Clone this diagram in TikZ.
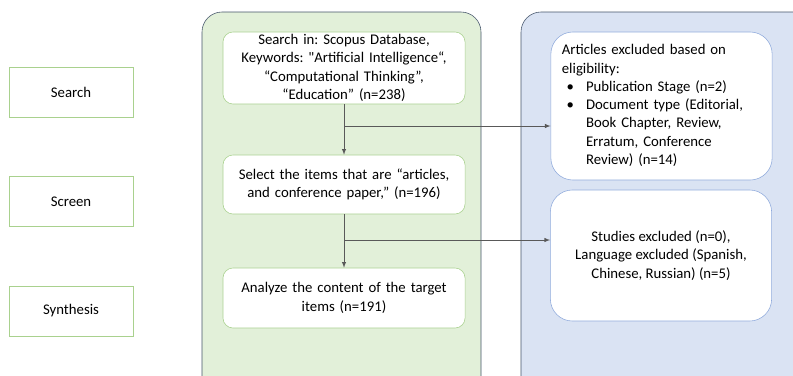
\documentclass[tikz,border=0pt]{standalone}
\usepackage{fontspec}
\setmainfont{Carlito}[Ligatures=TeXOff]
\definecolor{vertbord}{HTML}{A9D18E}
\definecolor{vertfond}{HTML}{E2F0D9}
\definecolor{bleubord}{HTML}{8FAADC}
\definecolor{bleufond}{HTML}{DAE3F3}
\definecolor{cadre}{HTML}{44546A}
\definecolor{trait}{HTML}{595959}
\begin{document}
\begin{tikzpicture}[x=0.025cm, y=-0.025cm]
	\tikzset{etape/.style={rectangle, draw=vertbord, fill=white, inner sep=0, minimum width=3.1cm, minimum height=1.25cm},
		boite/.style={rectangle, rounded corners=0.25cm, draw=vertbord, fill=white, inner sep=0, minimum width=6.05cm, align=center, text width=5.9cm},
		exclu/.style={rectangle, rounded corners=0.55cm, draw=bleubord, fill=white, inner sep=0, minimum width=5.53cm},
		fleche/.style={>=latex, ->, draw=trait, thin}};
	\useasboundingbox (0,0) rectangle (793,375);
	\clip (0,0) rectangle (793,375);
	\fontsize{10.5}{13}\selectfont\frenchspacing

	% panneaux
	\draw[cadre, fill=vertfond, rounded corners=0.5cm] (202,12) rectangle (481,420);
	\draw[cadre, fill=bleufond, rounded corners=0.5cm] (521,12) rectangle (840,420);

	\node[etape] (search) at (71,92) {Search};
	\node[etape] (screen) at (71,201.5) {Screen};
	\node[etape] (synth) at (71,311) {Synthesis};

	\node[boite, minimum height=1.8cm] (s1) at (344,68) {Search in: Scopus Database,\\ Keywords: "Artificial Intelligence“,\\ “Computational Thinking”,\\ “Education” (n=238)};
	\node[boite, minimum height=1.475cm] (s2) at (344,184.5) {Select the items that are “articles,\\ and conference paper,” (n=196)};
	\node[boite, minimum height=1.5cm] (s3) at (344,298) {Analyze the content of the target\\ items (n=191)};

	\node[exclu, minimum height=3.7cm, text width=4.98cm, align=left] (e1) at (661.5,106) {\begin{tabular}{@{}l@{\hspace{0.3cm}}l@{}}
		\multicolumn{2}{@{}l@{}}{Articles excluded based on}\\
		\multicolumn{2}{@{}l@{}}{eligibility:}\\
		\hspace{0.12cm}\textbullet & Publication Stage (n=2)\\
		\hspace{0.12cm}\textbullet & Document type (Editorial,\\
		& Book Chapter, Review,\\
		& Erratum, Conference\\
		& Review) (n=14)
	\end{tabular}};
	\node[exclu, minimum height=3.275cm, align=center] (e2) at (661,255.5) {Studies excluded (n=0),\\ Language excluded (Spanish,\\ Chinese, Russian) (n=5)};

	\coordinate (b1) at (344,126);
	\coordinate (b2) at (344,240);

	\draw[fleche] (s1) -- (s2);
	\draw[fleche] (s2) -- (s3);
	\draw[fleche] (b1) -- (b1 -| e1.west);
	\draw[fleche] (b2) -- (b2 -| e2.west);
\end{tikzpicture}
\end{document}
